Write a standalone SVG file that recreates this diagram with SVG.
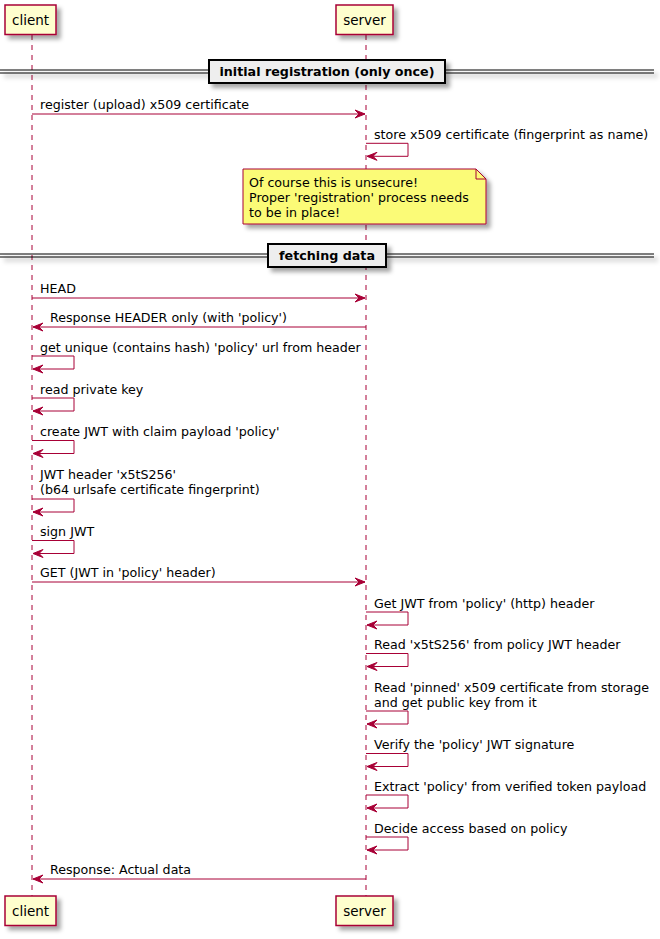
<svg xmlns="http://www.w3.org/2000/svg" width="660" height="939" viewBox="0 0 660 939">
<style>
text{font-family:"DejaVu Sans",sans-serif;fill:#000}
.msg{font-size:12.65px}
.part{font-size:13.5px}
.div{font-size:12.7px;font-weight:bold}
.life{stroke:#A80036;stroke-width:1;stroke-dasharray:5,5}
.ar{stroke:#A80036;stroke-width:1;fill:none}
.ah{fill:#A80036;stroke:#A80036;stroke-width:1}
.pbox{fill:#FEFECE;stroke:#A80036;stroke-width:1.5}
.dl{stroke:#000;stroke-width:1}
.dbox{fill:#EEEEEE;stroke:#000;stroke-width:2}
.note{fill:#FBFB77;stroke:#A80036;stroke-width:1}
</style>
<defs>
<filter id="sh" x="-20%" y="-20%" width="150%" height="160%">
<feDropShadow dx="4" dy="4" stdDeviation="2" flood-color="#000" flood-opacity="0.35"/>
</filter>
</defs>
<rect width="660" height="939" fill="#fff"/>
<g id="lifelines">
<line class="life" x1="32" y1="35" x2="32" y2="896"/>
<line class="life" x1="366" y1="35" x2="366" y2="896"/>
</g>
<g id="participant-client-top">
<rect class="pbox" x="5" y="5" width="51" height="29.5" filter="url(#sh)"/>
<text class="part" x="30.5" y="24.5" text-anchor="middle">client</text>
</g>
<g id="participant-server-top">
<rect class="pbox" x="336" y="5" width="57" height="29.5" filter="url(#sh)"/>
<text class="part" x="364.5" y="24.5" text-anchor="middle">server</text>
</g>
<g id="divider-initial">
<g filter="url(#sh)">
<line class="dl" x1="0" y1="70" x2="654" y2="70"/>
<line class="dl" x1="0" y1="73" x2="654" y2="73"/>
<rect class="dbox" x="209" y="60" width="236" height="23"/>
</g>
<text class="div" x="327" y="76" text-anchor="middle">initial registration (only once)</text>
</g>
<g id="connectors">
<text class="msg" x="40" y="109">register (upload) x509 certificate</text>
<line class="ar" x1="32" y1="114" x2="365" y2="114"/>
<polygon class="ah" points="355,110 365,114 355,118 359,114"/>
<text class="msg" x="374" y="139">store x509 certificate (fingerprint as name)</text>
<polyline class="ar" points="366,143.3 408,143.3 408,156.3 367,156.3"/>
<polygon class="ah" points="377,152.3 367,156.3 377,160.3 373,156.3"/>
<text class="msg" x="40" y="293">HEAD</text>
<line class="ar" x1="32" y1="298" x2="365" y2="298"/>
<polygon class="ah" points="355,294 365,298 355,302 359,298"/>
<text class="msg" x="50" y="322">Response HEADER only (with 'policy')</text>
<line class="ar" x1="33" y1="327" x2="366" y2="327"/>
<polygon class="ah" points="43,323 33,327 43,331 39,327"/>
<text class="msg" x="40" y="351.5">get unique (contains hash) 'policy' url from header</text>
<polyline class="ar" points="32,356 74,356 74,369 33,369"/>
<polygon class="ah" points="43,365 33,369 43,373 39,369"/>
<text class="msg" x="40" y="393.5">read private key</text>
<polyline class="ar" points="32,398 74,398 74,411 33,411"/>
<polygon class="ah" points="43,407 33,411 43,415 39,411"/>
<text class="msg" x="40" y="436">create JWT with claim payload 'policy'</text>
<polyline class="ar" points="32,440.5 74,440.5 74,453.5 33,453.5"/>
<polygon class="ah" points="43,449.5 33,453.5 43,457.5 39,453.5"/>
<text class="msg" x="40" y="479">JWT header 'x5tS256'</text>
<text class="msg" x="40" y="494">(b64 urlsafe certificate fingerprint)</text>
<polyline class="ar" points="32,499 74,499 74,512 33,512"/>
<polygon class="ah" points="43,508 33,512 43,516 39,512"/>
<text class="msg" x="40" y="536">sign JWT</text>
<polyline class="ar" points="32,540.5 74,540.5 74,553.5 33,553.5"/>
<polygon class="ah" points="43,549.5 33,553.5 43,557.5 39,553.5"/>
<text class="msg" x="40" y="577">GET (JWT in 'policy' header)</text>
<line class="ar" x1="32" y1="582" x2="365" y2="582"/>
<polygon class="ah" points="355,578 365,582 355,586 359,582"/>
<text class="msg" x="374" y="607.5">Get JWT from 'policy' (http) header</text>
<polyline class="ar" points="366,612 408,612 408,625 367,625"/>
<polygon class="ah" points="377,621 367,625 377,629 373,625"/>
<text class="msg" x="374" y="649">Read 'x5tS256' from policy JWT header</text>
<polyline class="ar" points="366,653.5 408,653.5 408,666.5 367,666.5"/>
<polygon class="ah" points="377,662.5 367,666.5 377,670.5 373,666.5"/>
<text class="msg" x="374" y="691.5">Read 'pinned' x509 certificate from storage</text>
<text class="msg" x="374" y="706.5">and get public key from it</text>
<polyline class="ar" points="366,711 408,711 408,724 367,724"/>
<polygon class="ah" points="377,720 367,724 377,728 373,724"/>
<text class="msg" x="374" y="749">Verify the 'policy' JWT signature</text>
<polyline class="ar" points="366,753.5 408,753.5 408,766.5 367,766.5"/>
<polygon class="ah" points="377,762.5 367,766.5 377,770.5 373,766.5"/>
<text class="msg" x="374" y="790.5">Extract 'policy' from verified token payload</text>
<polyline class="ar" points="366,795 408,795 408,808 367,808"/>
<polygon class="ah" points="377,804 367,808 377,812 373,808"/>
<text class="msg" x="374" y="832.5">Decide access based on policy</text>
<polyline class="ar" points="366,837 408,837 408,850 367,850"/>
<polygon class="ah" points="377,846 367,850 377,854 373,850"/>
<text class="msg" x="50" y="874">Response: Actual data</text>
<line class="ar" x1="33" y1="879" x2="366" y2="879"/>
<polygon class="ah" points="43,875 33,879 43,883 39,879"/>
</g>
<g id="note">
<path class="note" d="M243,169 L476,169 L486,179 L486,224 L243,224 Z" filter="url(#sh)"/>
<path d="M476,169 L476,179 L486,179" fill="none" stroke="#A80036" stroke-width="1"/>
<text class="msg" x="249" y="187">Of course this is unsecure!</text>
<text class="msg" x="249" y="202">Proper 'registration' process needs</text>
<text class="msg" x="249" y="217">to be in place!</text>
</g>
<g id="divider-fetching">
<g filter="url(#sh)">
<line class="dl" x1="0" y1="254" x2="654" y2="254"/>
<line class="dl" x1="0" y1="257" x2="654" y2="257"/>
<rect class="dbox" x="268" y="244" width="118" height="23"/>
</g>
<text class="div" x="327" y="260" text-anchor="middle">fetching data</text>
</g>
<g id="participant-client-bottom">
<rect class="pbox" x="5" y="896" width="51" height="29.5" filter="url(#sh)"/>
<text class="part" x="30.5" y="915.5" text-anchor="middle">client</text>
</g>
<g id="participant-server-bottom">
<rect class="pbox" x="336" y="896" width="57" height="29.5" filter="url(#sh)"/>
<text class="part" x="364.5" y="915.5" text-anchor="middle">server</text>
</g>
</svg>
